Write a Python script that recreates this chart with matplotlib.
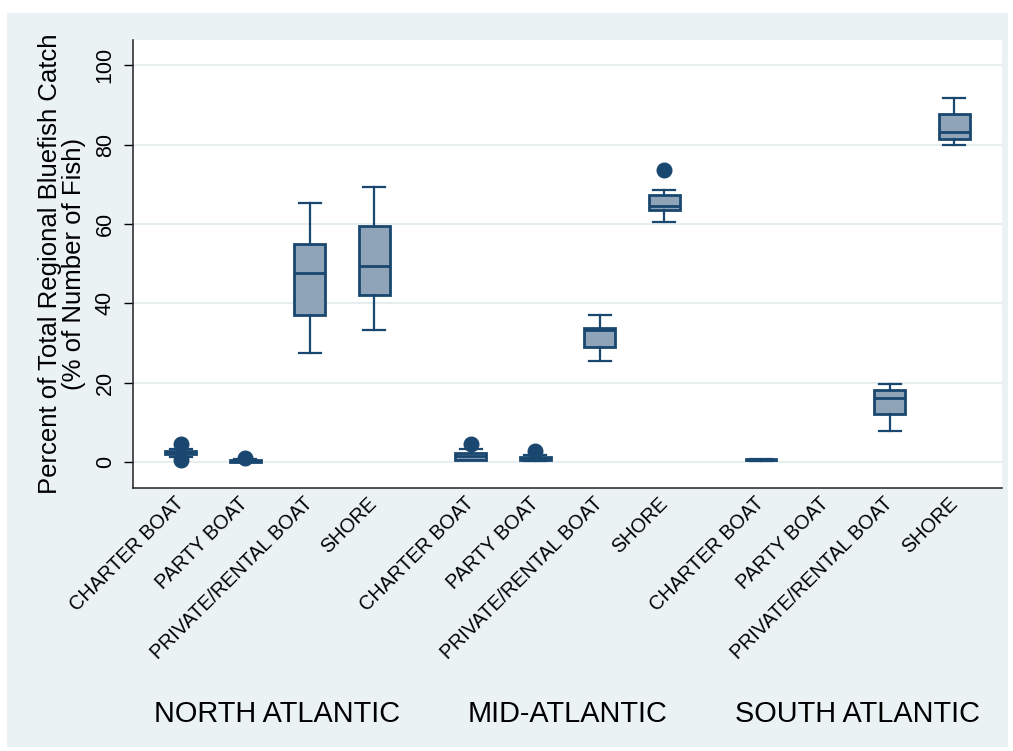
import matplotlib.pyplot as plt
from matplotlib.patches import Rectangle
from matplotlib.transforms import blended_transform_factory

plt.rcParams['font.family'] = ['Liberation Sans', 'DejaVu Sans']

# categories repeated for each region
categories = ['CHARTER BOAT', 'PARTY BOAT', 'PRIVATE/RENTAL BOAT', 'SHORE']
regions = ['NORTH ATLANTIC', 'MID-ATLANTIC', 'SOUTH ATLANTIC']

# box statistics, region by region in category order (None = no box)
lower_whisker = [1.3, 0.0, 27.6, 33.4,   0.5, 0.3, 25.4, 60.5,   0.3, None, 7.8, 79.8]
q1            = [2.1, 0.1, 37.2, 42.2,   0.7, 0.5, 29.0, 63.6,   0.5, None, 12.1, 81.3]
median        = [2.5, 0.3, 47.7, 49.4,   1.7, 0.9, 33.2, 64.4,   0.6, None, 16.2, 83.2]
q3            = [2.8, 0.6, 54.9, 59.6,   2.3, 1.3, 33.8, 67.2,   0.8, None, 18.1, 87.6]
upper_whisker = [3.4, 0.8, 65.3, 69.2,   3.3, 1.8, 37.2, 68.5,   0.9, None, 19.6, 91.6]
outliers      = [[4.5, 0.5], [1.0], [], [],   [4.5], [2.8], [], [73.7],   [], [], [], []]

navy = '#1a476f'
fill = '#8fa4b8'
bg = '#eaf2f3'

fig = plt.figure(figsize=(10.13, 7.51), dpi=100)
fig.patches.append(Rectangle((7 / 1013, 1 - 747 / 751), 1001 / 1013, 734 / 751,
                             transform=fig.transFigure, facecolor=bg,
                             edgecolor='none', zorder=-10))
ax = fig.add_axes([0.1313, 0.350, 0.858, 0.5967])

# positions: 4 boxes per region, 1.5 spacing between regions
positions = []
labels = []
for r in range(len(regions)):
    for c in range(len(categories)):
        positions.append(r * 4.5 + c)
        labels.append(categories[c])

stats = []
pos_drawn = []
for i in range(len(positions)):
    if median[i] is None:
        continue
    stats.append(dict(whislo=lower_whisker[i], q1=q1[i], med=median[i],
                      q3=q3[i], whishi=upper_whisker[i], fliers=outliers[i]))
    pos_drawn.append(positions[i])

ax.bxp(stats, positions=pos_drawn, widths=0.48, capwidths=0.34,
       patch_artist=True, manage_ticks=False,
       boxprops=dict(facecolor=fill, edgecolor=navy, linewidth=2.0),
       medianprops=dict(color=navy, linewidth=2.0),
       whiskerprops=dict(color=navy, linewidth=1.6),
       capprops=dict(color=navy, linewidth=1.6),
       flierprops=dict(marker='o', markerfacecolor=navy, markeredgecolor=navy,
                       markersize=10.5))

ax.set_xlim(-0.74, 12.74)
ax.set_ylim(-6.5, 106.3)
ax.set_yticks([0, 20, 40, 60, 80, 100])
ax.tick_params(axis='y', length=6.5, width=1.0, labelsize=15.5, pad=6,
               labelrotation=90)
for t in ax.get_yticklabels():
    t.set_verticalalignment('center')
ax.set_xticks(positions)
ax.set_xticklabels(labels, rotation=45, ha='right', va='center',
                   rotation_mode='anchor', fontsize=14.2)
ax.tick_params(axis='x', length=0, pad=9)

ax.grid(axis='y', color='#e6eef0', linewidth=1.5)
ax.set_axisbelow(True)
for s in ['top', 'right']:
    ax.spines[s].set_visible(False)
for s in ['left', 'bottom']:
    ax.spines[s].set_color('#222222')
    ax.spines[s].set_linewidth(1.1)

ax.set_ylabel('Percent of Total Regional Bluefish Catch\n(% of Number of Fish)',
              fontsize=18.5, linespacing=1.0, labelpad=6)

trans = blended_transform_factory(ax.transData, fig.transFigure)
for r, name in enumerate(regions):
    ax.text(r * 4.5 + 1.5, 1 - 714 / 751, name, transform=trans,
            ha='center', va='center', fontsize=20.8)

fig.savefig('out.png', dpi=100)
